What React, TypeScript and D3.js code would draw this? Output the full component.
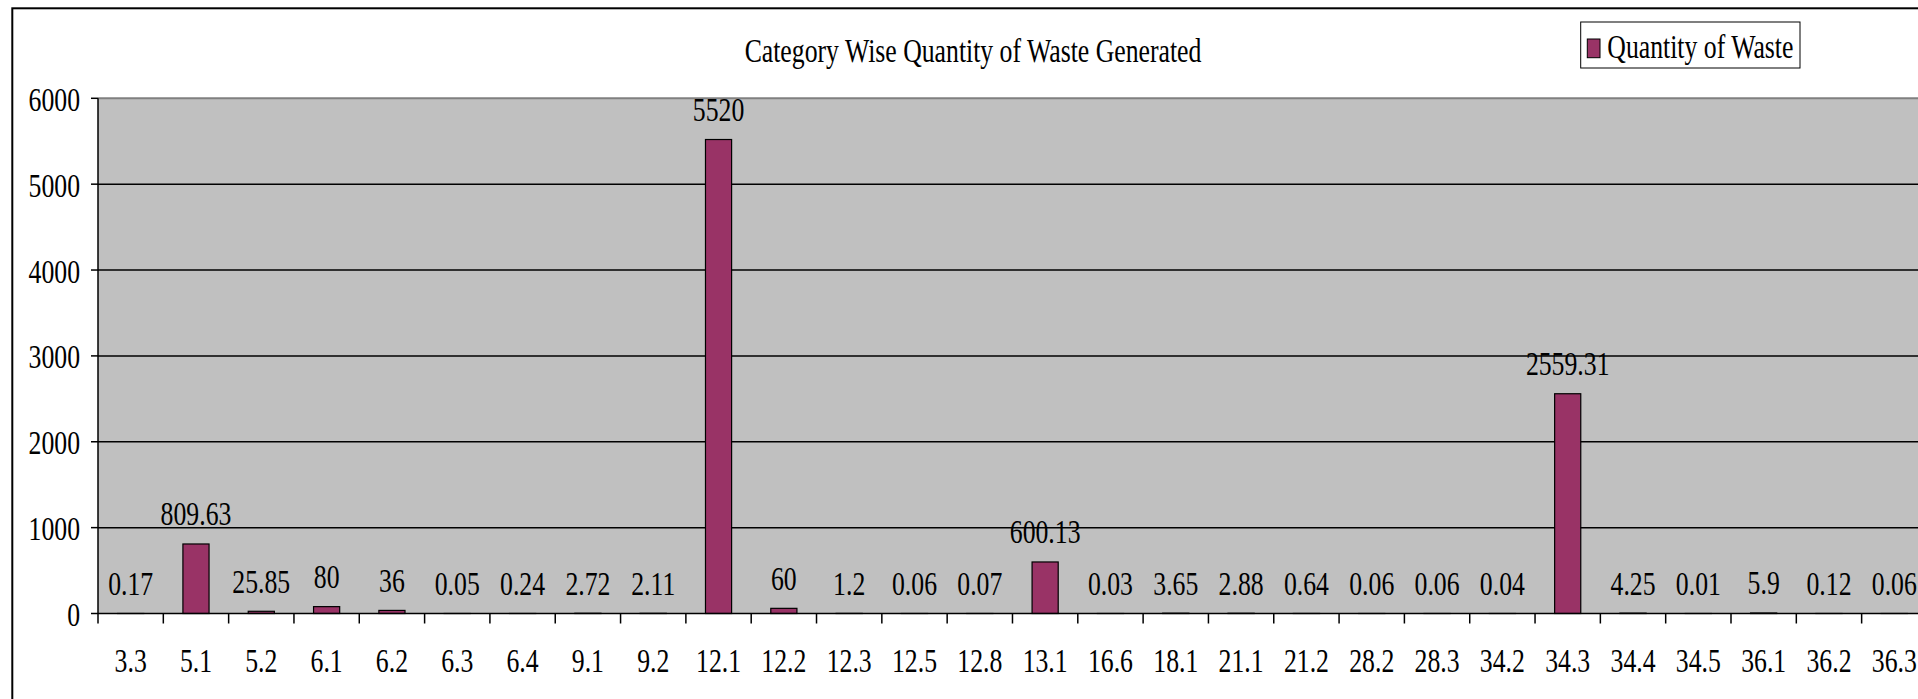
import React from "react";
import * as d3 from "d3";

const categories: string[] = ["3.3","5.1","5.2","6.1","6.2","6.3","6.4","9.1","9.2","12.1","12.2","12.3","12.5","12.8","13.1","16.6","18.1","21.1","21.2","28.2","28.3","34.2","34.3","34.4","34.5","36.1","36.2","36.3"];
const values: number[] = [0.17,809.63,25.85,80,36,0.05,0.24,2.72,2.11,5520,60,1.2,0.06,0.07,600.13,0.03,3.65,2.88,0.64,0.06,0.06,0.04,2559.31,4.25,0.01,5.9,0.12,0.06];
const yTicks: number[] = [0,1000,2000,3000,4000,5000,6000];
const title = "Category Wise Quantity of Waste Generated";
const seriesName = "Quantity of Waste";

const W = 1918, H = 699;
const FONT = "'Liberation Serif', 'Times New Roman', serif";
const FS = 33;
const SX = 0.78;

function T({ x, y, anchor = "middle", size = FS, children }: any) {
  return (
    <text transform={`translate(${x},${y}) scale(${SX},1)`} textAnchor={anchor} fontSize={size} fontFamily={FONT} fill="#000">
      {children}
    </text>
  );
}

export default function App() {
  const left = 98, top = 98.3, bottom = 613.5;
  const step = 65.32;
  const x = d3.scaleBand<string>().domain(categories).range([left, left + categories.length * step]).padding(0);
  const y = d3.scaleLinear().domain([0, 6000]).range([bottom, top]);
  const bw = x.bandwidth();
  const barW = bw * 0.4;
  const right = left + categories.length * step + 200;

  return (
    <div style={{ position: "absolute", left: 0, top: 0, width: W, height: H, overflow: "hidden", background: "#fff" }}>
      <svg width={W} height={H} style={{ display: "block" }}>
        <rect x={12.3} y={8.3} width={W + 100} height={H + 100} fill="#fff" stroke="#000" strokeWidth={2} />
        <rect x={left} y={top} width={right - left} height={bottom - top} fill="#C0C0C0" />
        <line x1={left} x2={right} y1={top} y2={top} stroke="#808080" strokeWidth={2} />
        {yTicks.filter(t => t > 0 && t < 6000).map(t => (
          <line key={t} x1={left} x2={right} y1={y(t)} y2={y(t)} stroke="#000" strokeWidth={1.5} />
        ))}
        <line x1={left} x2={left} y1={top} y2={bottom} stroke="#000" strokeWidth={1.5} />
        {yTicks.map(t => (
          <g key={t}>
            <line x1={left - 7} x2={left} y1={y(t)} y2={y(t)} stroke="#000" strokeWidth={1.5} />
            <T x={80} y={y(t) + 12.5} anchor="end">{t}</T>
          </g>
        ))}
        {categories.map((c, i) => {
          const cx = (x(c) as number) + bw / 2;
          const yv = y(values[i]);
          return (
            <g key={c}>
              <rect x={cx - barW / 2} y={yv} width={barW} height={Math.max(0, bottom - yv)} fill="#993366" stroke="#000" strokeWidth={1.2} />
              <T x={cx} y={yv - 18.5}>{String(values[i])}</T>
            </g>
          );
        })}
        <line x1={left} x2={right} y1={bottom} y2={bottom} stroke="#000" strokeWidth={1.5} />
        {categories.map(c => (
          <line key={"t" + c} x1={x(c) as number} x2={x(c) as number} y1={bottom} y2={bottom + 10} stroke="#000" strokeWidth={1.5} />
        ))}
        <line x1={left + categories.length * step} x2={left + categories.length * step} y1={bottom} y2={bottom + 10} stroke="#000" strokeWidth={1.5} />
        {categories.map(c => (
          <T key={"l" + c} x={(x(c) as number) + bw / 2} y={672}>{c}</T>
        ))}
        <T x={973} y={61.7}>{title}</T>
        <rect x={1580.7} y={22} width={219.3} height={46} fill="#fff" stroke="#000" strokeWidth={1} />
        <rect x={1587.3} y={39} width={12.7} height={18.7} fill="#993366" stroke="#000" strokeWidth={1} />
        <T x={1607.3} y={58.3} anchor="start">{seriesName}</T>
      </svg>
    </div>
  );
}
